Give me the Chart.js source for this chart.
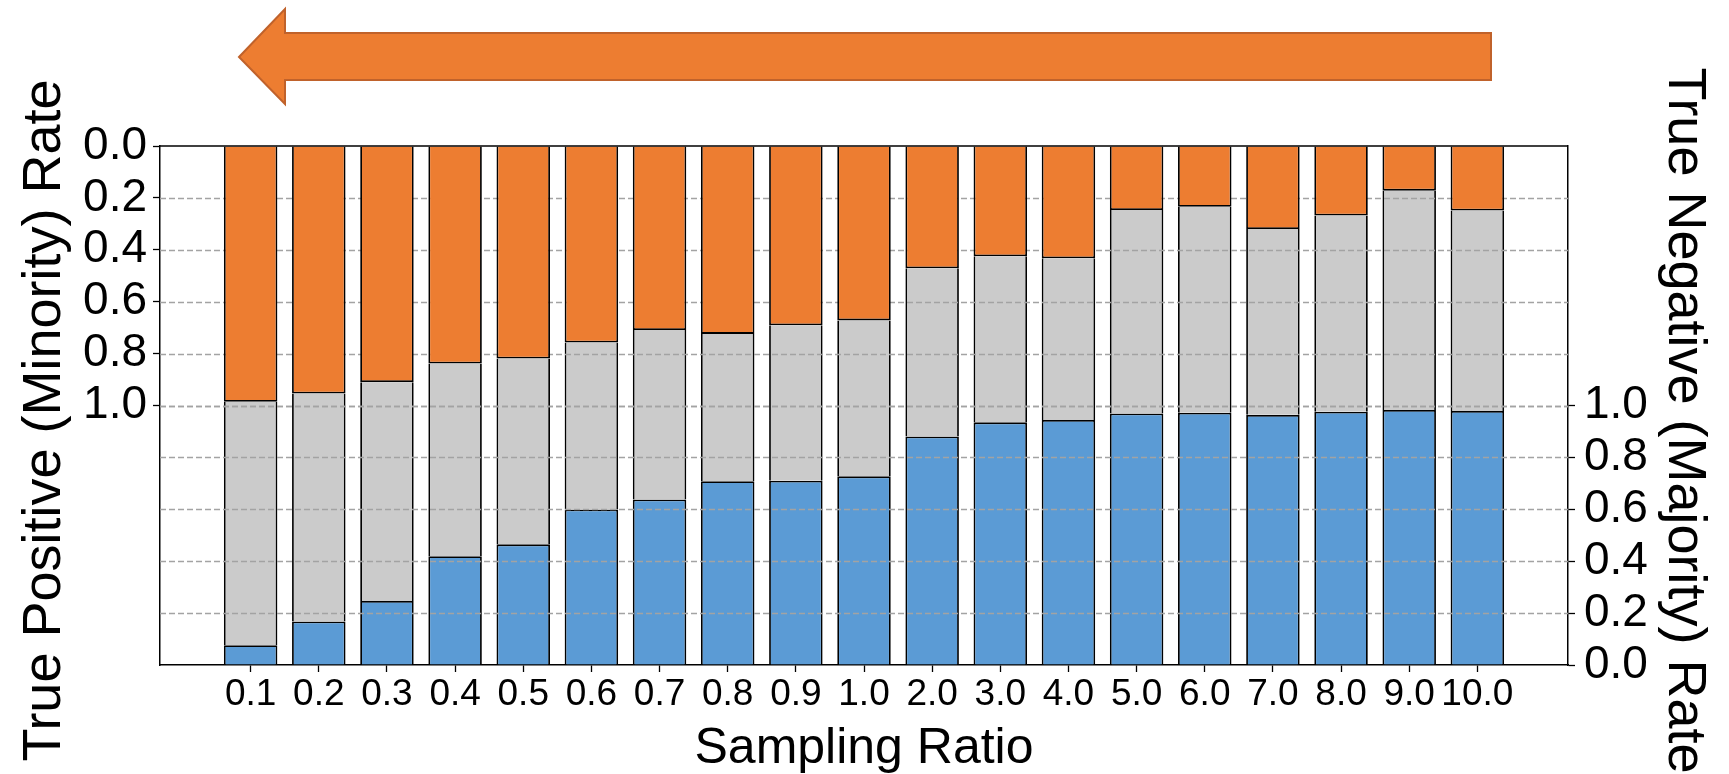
<!DOCTYPE html>
<html>
<head>
<meta charset="utf-8">
<script src="https://cdn.jsdelivr.net/npm/chart.js@4.4.1/dist/chart.umd.min.js"></script>
<style>
html, body { margin: 0; padding: 0; background: #fff; }
#wrap { width: 1729px; height: 774px; }
</style>
</head>
<body>
<div id="wrap"><canvas id="ratioChart" width="1729" height="774"></canvas></div>
<script>
// sampling ratios on the x axis
const ratios = ['0.1', '0.2', '0.3', '0.4', '0.5', '0.6', '0.7', '0.8', '0.9', '1.0',
                '2.0', '3.0', '4.0', '5.0', '6.0', '7.0', '8.0', '9.0', '10.0'];
// true positive (minority) rate, hangs from the top (left axis, inverted)
const tpRate = [0.986, 0.954, 0.910, 0.838, 0.819, 0.757, 0.709, 0.724, 0.691, 0.672,
                0.471, 0.425, 0.433, 0.247, 0.234, 0.320, 0.268, 0.172, 0.249];
// true negative (majority) rate, grows from the bottom (right axis)
const tnRate = [0.076, 0.168, 0.247, 0.419, 0.465, 0.599, 0.638, 0.708, 0.710, 0.727,
                0.881, 0.935, 0.944, 0.969, 0.972, 0.964, 0.976, 0.983, 0.979];
const leftTicks = [0, 0.2, 0.4, 0.6, 0.8, 1.0];
const rightTicks = [0, 0.2, 0.4, 0.6, 0.8, 1.0];

const FONT = "'Liberation Sans', Arial, sans-serif";
Chart.defaults.font.family = FONT;
Chart.defaults.color = '#000';

// dashed grid goes over the grey/blue bars but under the orange ones
const gridOverBars = {
    id: 'gridOverBars',
    afterDatasetDraw(chart, args) {
        if (args.index !== 1) return;
        const { ctx, chartArea: a, scales } = chart;
        ctx.save();
        ctx.strokeStyle = '#a3a3a3';
        ctx.lineWidth = 1.3;
        ctx.setLineDash([6, 3]);
        [scales.yL, scales.yR].forEach(s => s.ticks.forEach(t => {
            const y = Math.round(s.getPixelForValue(t.value)) + 0.5;
            if (y <= a.top + 2 || y >= a.bottom - 2) return;
            ctx.beginPath();
            ctx.moveTo(a.left, y);
            ctx.lineTo(a.right, y);
            ctx.stroke();
        }));
        ctx.restore();
    }
};

// top frame line and the big arrow above the plot
const frameAndArrow = {
    id: 'frameAndArrow',
    afterDraw(chart) {
        const { ctx, chartArea: a } = chart;
        ctx.save();
        ctx.strokeStyle = '#000';
        ctx.lineWidth = 1.5;
        ctx.beginPath();
        ctx.moveTo(a.left, a.top);
        ctx.lineTo(a.right, a.top);
        ctx.stroke();

        const tip = a.left + 79, neck = a.left + 125, tail = a.left + 1331;
        ctx.beginPath();
        ctx.moveTo(tip, a.top - 89);
        ctx.lineTo(neck, a.top - 137);
        ctx.lineTo(neck, a.top - 113);
        ctx.lineTo(tail, a.top - 113);
        ctx.lineTo(tail, a.top - 66);
        ctx.lineTo(neck, a.top - 66);
        ctx.lineTo(neck, a.top - 42);
        ctx.closePath();
        ctx.fillStyle = '#ED7D31';
        ctx.fill();
        ctx.strokeStyle = '#C0622B';
        ctx.lineWidth = 2;
        ctx.stroke();
        ctx.restore();
    }
};

const tickGrid = { drawOnChartArea: false, drawTicks: true, tickLength: 7, tickColor: '#000', tickWidth: 1.3, offset: false };
const axisBorder = { display: true, color: '#000', width: 1.5 };

new Chart(document.getElementById('ratioChart'), {
    type: 'bar',
    data: {
        datasets: [
            {
                label: 'True Positive',
                data: ratios.map((_, i) => ({ x: i, y: [0, tpRate[i]] })),
                yAxisID: 'yL',
                backgroundColor: '#ED7D31'
            },
            {
                label: 'Rest',
                data: ratios.map((_, i) => ({ x: i, y: [tnRate[i], 2 - tpRate[i]] })),
                yAxisID: 'yR',
                backgroundColor: '#CBCBCB',
                borderSkipped: false,
                borderWidth: { left: 1.8, right: 1.8, top: 0, bottom: 0 }
            },
            {
                label: 'True Negative',
                data: ratios.map((_, i) => ({ x: i, y: [0, tnRate[i]] })),
                yAxisID: 'yR',
                backgroundColor: '#5B9BD5'
            }
        ]
    },
    options: {
        responsive: false,
        animation: false,
        devicePixelRatio: 1,
        layout: { padding: { top: 146, left: 0, right: 0, bottom: 0 } },
        plugins: { legend: { display: false }, tooltip: { enabled: false } },
        datasets: {
            bar: { grouped: false, barPercentage: 0.785, categoryPercentage: 1, borderColor: '#000', borderWidth: 1.8 }
        },
        scales: {
            x: {
                type: 'linear', min: -1.33, max: 19.33, offset: false,
                afterBuildTicks: s => { s.ticks = ratios.map((_, i) => ({ value: i })); },
                afterFit: s => { s.height = 109; },
                ticks: { callback: v => ratios[v], autoSkip: false, maxRotation: 0, minRotation: 0, padding: 1, font: { size: 37 } },
                grid: tickGrid,
                border: axisBorder,
                title: { display: true, text: 'Sampling Ratio', font: { size: 50 }, padding: { top: 0, bottom: -5 } }
            },
            yL: {
                type: 'linear', position: 'left', reverse: true, min: 0, max: 2,
                afterBuildTicks: s => { s.ticks = leftTicks.map(v => ({ value: v })); },
                afterFit: s => { s.width = 160; },
                ticks: { callback: v => v.toFixed(1), padding: 6, font: { size: 46 } },
                grid: tickGrid,
                border: axisBorder,
                title: { display: true, text: 'True Positive (Minority) Rate  ', font: { size: 54 }, padding: { top: 13, bottom: 13 } }
            },
            yR: {
                type: 'linear', position: 'right', min: 0, max: 2,
                afterBuildTicks: s => { s.ticks = rightTicks.map(v => ({ value: v })); },
                afterFit: s => { s.width = 161; },
                ticks: { callback: v => v.toFixed(1), padding: 9, font: { size: 46 } },
                grid: tickGrid,
                border: axisBorder,
                title: { display: true, text: '  True Negative (Majority) Rate', font: { size: 54 }, padding: { top: 13, bottom: 13 } }
            }
        }
    },
    plugins: [gridOverBars, frameAndArrow]
});
</script>
</body>
</html>
